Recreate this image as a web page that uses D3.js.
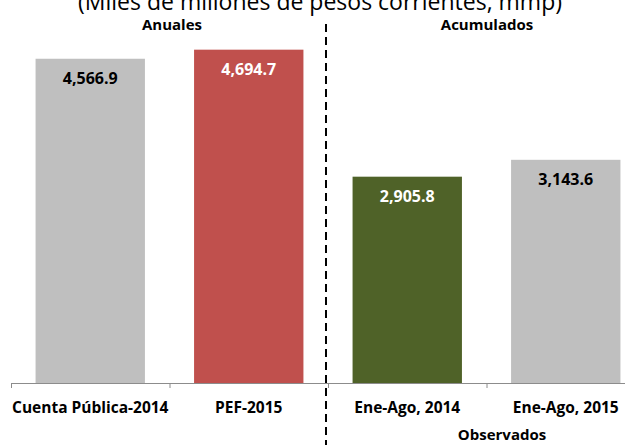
<!DOCTYPE html>
<html>
<head>
<meta charset="utf-8">
<script src="https://cdn.jsdelivr.net/npm/d3@7"></script>
<style>
  body { margin: 0; background: #fff; }
  svg { display: block; font-family: "Open Sans", sans-serif; }
</style>
</head>
<body>
<svg width="625" height="445"></svg>
<script>
// data
var categories = ["Cuenta Pública-2014", "PEF-2015", "Ene-Ago, 2014", "Ene-Ago, 2015"];
var values = [4566.9, 4694.7, 2905.8, 3143.6];
var barColors = ["#BFBFBF", "#C0504D", "#4F6228", "#BFBFBF"];
var labelColors = ["#000", "#fff", "#fff", "#000"];
var title = "(Miles de millones de pesos corrientes, mmp)";

var svg = d3.select("svg");

var x = d3.scaleBand()
    .domain(categories)
    .range([11, 645])
    .paddingInner(0.31)
    .paddingOuter(0.155);

var y = d3.scaleLinear()
    .domain([0, 5000])
    .range([383, 28]);

// title (partly cut at the top, as in the source)
svg.append("text")
    .attr("x", 320)
    .attr("y", 10)
    .attr("text-anchor", "middle")
    .attr("font-size", 23)
    .attr("fill", "#000")
    .text(title);

// bars
svg.selectAll("rect.bar")
  .data(values)
  .enter().append("rect")
    .attr("class", "bar")
    .attr("x", function(d, i) { return x(categories[i]); })
    .attr("y", function(d) { return y(d); })
    .attr("width", x.bandwidth())
    .attr("height", function(d) { return y(0) - y(d); })
    .attr("fill", function(d, i) { return barColors[i]; });

// value labels
svg.selectAll("text.val")
  .data(values)
  .enter().append("text")
    .attr("class", "val")
    .attr("x", function(d, i) { return x(categories[i]) + x.bandwidth() / 2; })
    .attr("y", function(d) { return y(d) + 25; })
    .attr("text-anchor", "middle")
    .attr("font-size", 16)
    .attr("font-weight", "bold")
    .attr("fill", function(d, i) { return labelColors[i]; })
    .text(function(d) { return d3.format(",.1f")(d); });

// axis: line + ticks at category boundaries
var edge = function(i) { return x.range()[0] + i * x.step(); };
var axis = svg.append("g").attr("class", "axis");
axis.append("line")
    .attr("x1", x.range()[0]).attr("x2", x.range()[1])
    .attr("y1", y(0) + 0.5).attr("y2", y(0) + 0.5)
    .attr("stroke", "#8c8c8c");
axis.selectAll("line.tick")
  .data(d3.range(categories.length + 1))
  .enter().append("line")
    .attr("class", "tick")
    .attr("x1", function(i) { return edge(i) + 0.5; })
    .attr("x2", function(i) { return edge(i) + 0.5; })
    .attr("y1", y(0)).attr("y2", y(0) + 5)
    .attr("stroke", "#8c8c8c");

// category labels
svg.selectAll("text.cat")
  .data(categories)
  .enter().append("text")
    .attr("class", "cat")
    .attr("x", function(d) { return x(d) + x.bandwidth() / 2; })
    .attr("y", 413)
    .attr("text-anchor", "middle")
    .attr("font-size", 15.5)
    .attr("font-weight", "bold")
    .attr("fill", "#000")
    .text(function(d) { return d; });

// separator
svg.append("line")
    .attr("x1", 326).attr("x2", 326)
    .attr("y1", 24).attr("y2", 445)
    .attr("stroke", "#000")
    .attr("stroke-width", 2)
    .attr("stroke-dasharray", "8,5");

// group labels
var groups = [["Anuales", 172, 30], ["Acumulados", 487, 30], ["Observados", 502, 440]];
svg.selectAll("text.grp")
  .data(groups)
  .enter().append("text")
    .attr("class", "grp")
    .attr("x", function(d) { return d[1]; })
    .attr("y", function(d) { return d[2]; })
    .attr("text-anchor", "middle")
    .attr("font-size", 15)
    .attr("font-weight", "bold")
    .attr("fill", "#000")
    .text(function(d) { return d[0]; });
</script>
</body>
</html>
